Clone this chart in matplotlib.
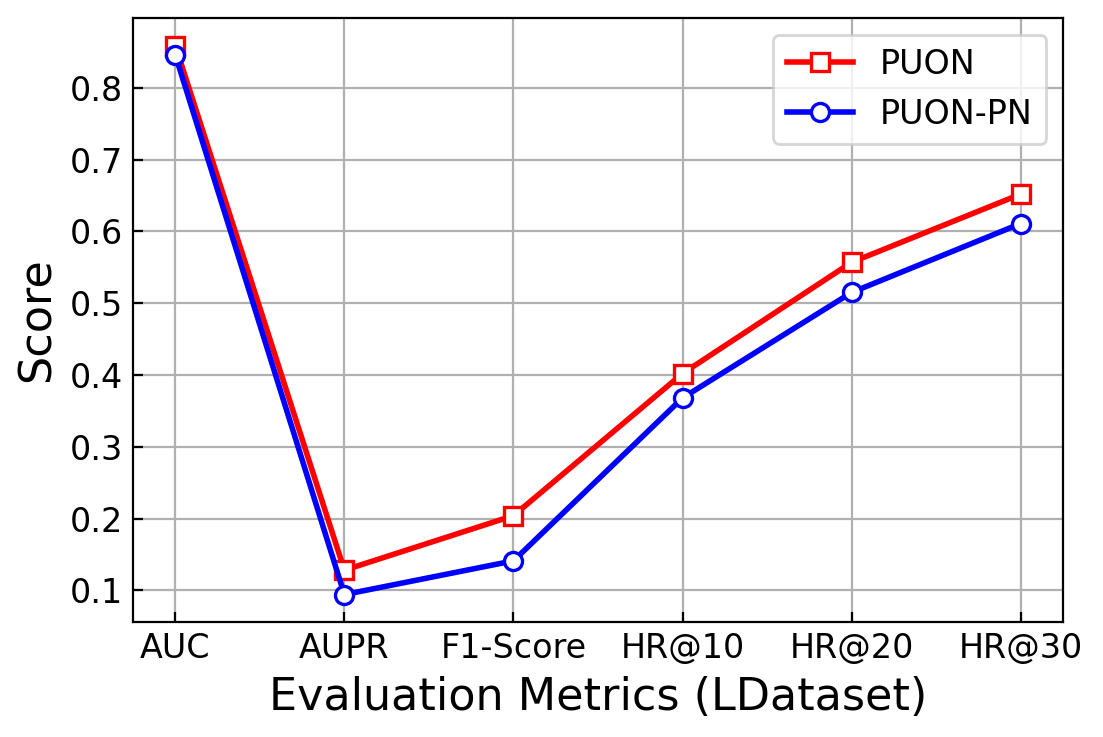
import matplotlib
matplotlib.use('Agg')
from matplotlib import pyplot as plt

metrics = ['AUC', 'AUPR', 'F1-Score', 'HR@10', 'HR@20', 'HR@30']
puon = [0.859, 0.128, 0.204, 0.402, 0.557, 0.652]
puon_pn = [0.846, 0.094, 0.141, 0.368, 0.515, 0.611]

fig = plt.figure(figsize=(5.515, 3.685), dpi=200)
ax = fig.add_axes([0.1206, 0.156, 0.8431, 0.8194])

x = list(range(len(metrics)))
ax.plot(x, puon, '-s', color='red', lw=2, ms=6.5, mfc='white', mec='red', mew=1.2, label='PUON', zorder=3)
ax.plot(x, puon_pn, '-o', color='blue', lw=2, ms=6.5, mfc='white', mec='blue', mew=1.2, label='PUON-PN', zorder=3)

ax.set_xticks(x)
ax.set_xticklabels(metrics)
ax.set_xlim(-0.25, 5.25)
ax.grid(True, color='#b0b0b0', lw=0.8)
ax.tick_params(direction='in', labelsize=12)
ax.set_xlabel('Evaluation Metrics (LDataset)', fontsize=16)
ax.set_ylabel('Score', fontsize=16)
ax.legend(fontsize=12, loc='upper right')

fig.savefig('out.png', dpi=200)
